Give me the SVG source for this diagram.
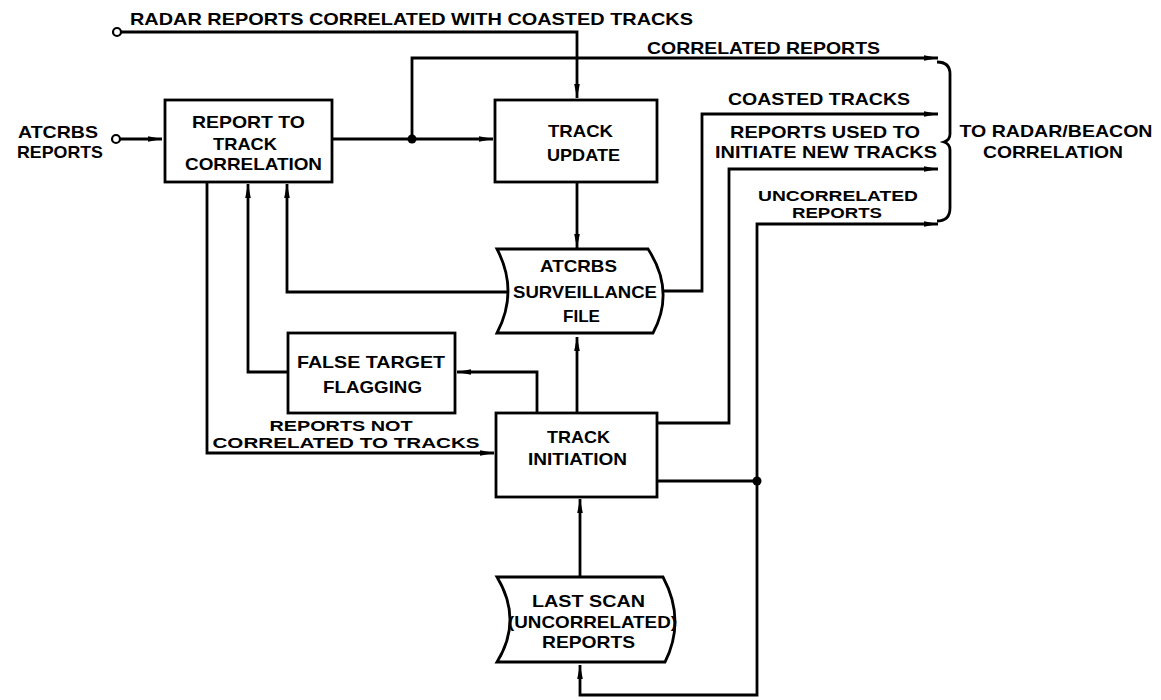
<svg xmlns="http://www.w3.org/2000/svg" width="1161" height="700" viewBox="0 0 1161 700">
<style>
.ln{fill:none;stroke:#000;stroke-width:2.8;stroke-linejoin:miter}
.box{fill:#fff;stroke:#000;stroke-width:2.8}
.dot{fill:#000}
.in{fill:#fff;stroke:#000;stroke-width:2.2}
text{font-family:"Liberation Sans",Arial,sans-serif;font-weight:bold;font-size:17px;fill:#000}
.m{text-anchor:middle}
.s{font-size:15px}
</style>
<defs>
<marker id="ah" viewBox="0 0 14 8" refX="14" refY="4" markerWidth="14" markerHeight="8" markerUnits="userSpaceOnUse" orient="auto">
<path d="M0,1.2 L14,4 L0,6.8 Z" fill="#000"/>
</marker>
</defs>
<rect width="1161" height="700" fill="#fff"/>

<g id="connectors">
<!-- ATCRBS input -->
<circle class="in" cx="116" cy="139" r="4"/>
<path class="ln" d="M120,139 H162" marker-end="url(#ah)"/>
<!-- Radar reports input -->
<circle class="in" cx="117" cy="32" r="4"/>
<path class="ln" d="M121,32 H577 V98" marker-end="url(#ah)"/>
<!-- Report correlation to Track update -->
<path class="ln" d="M332,139 H493" marker-end="url(#ah)"/>
<circle class="dot" cx="412" cy="139" r="4.5"/>
<!-- Correlated reports -->
<path class="ln" d="M412,139 V58 H938" marker-end="url(#ah)"/>
<!-- Track update to surveillance file -->
<path class="ln" d="M577,182 V248" marker-end="url(#ah)"/>
<!-- Surveillance file back to report correlation -->
<path class="ln" d="M508,292 H287 V184" marker-end="url(#ah)"/>
<!-- Coasted tracks -->
<path class="ln" d="M663,291 H702 V114 H938" marker-end="url(#ah)"/>
<!-- Reports used to initiate new tracks -->
<path class="ln" d="M657,423 H729 V169 H938" marker-end="url(#ah)"/>
<!-- Uncorrelated reports -->
<path class="ln" d="M657,481 H757 V224 H938" marker-end="url(#ah)"/>
<circle class="dot" cx="757" cy="481" r="4.5"/>
<!-- Loop to last scan -->
<path class="ln" d="M757,481 V695 H580 V665" marker-end="url(#ah)"/>
<!-- Last scan to track initiation -->
<path class="ln" d="M580,577 V499" marker-end="url(#ah)"/>
<!-- Track initiation to surveillance file -->
<path class="ln" d="M577,413 V337" marker-end="url(#ah)"/>
<!-- Track initiation to false target flagging -->
<path class="ln" d="M537,413 V372 H457" marker-end="url(#ah)"/>
<!-- False target flagging to report correlation -->
<path class="ln" d="M288,372 H248 V184" marker-end="url(#ah)"/>
<!-- Reports not correlated -->
<path class="ln" d="M207,182 V453 H494" marker-end="url(#ah)"/>
<!-- Brace -->
<path class="ln" d="M937,62 Q950,62 950,74 V134 Q950,140 944,142 Q950,144 950,150 V208 Q950,221 937,221"/>
</g>

<g id="labels">
<text x="130" y="25" textLength="563" lengthAdjust="spacingAndGlyphs">RADAR REPORTS CORRELATED WITH COASTED TRACKS</text>
<text class="m" x="58" y="138" textLength="80" lengthAdjust="spacingAndGlyphs">ATCRBS</text>
<text class="m" x="60" y="158" textLength="86" lengthAdjust="spacingAndGlyphs">REPORTS</text>
<text class="m" x="763.5" y="54" textLength="233" lengthAdjust="spacingAndGlyphs">CORRELATED REPORTS</text>
<text class="m" x="819" y="105" textLength="182" lengthAdjust="spacingAndGlyphs">COASTED TRACKS</text>
<text class="m" x="825" y="138" textLength="190" lengthAdjust="spacingAndGlyphs">REPORTS USED TO</text>
<text class="m" x="826" y="158" textLength="222" lengthAdjust="spacingAndGlyphs">INITIATE NEW TRACKS</text>
<text class="m s" x="838" y="201" textLength="160" lengthAdjust="spacingAndGlyphs">UNCORRELATED</text>
<text class="m s" x="837" y="218" textLength="90" lengthAdjust="spacingAndGlyphs">REPORTS</text>
<text class="m" x="1056" y="137" textLength="193" lengthAdjust="spacingAndGlyphs">TO RADAR/BEACON</text>
<text class="m" x="1053" y="158" textLength="140" lengthAdjust="spacingAndGlyphs">CORRELATION</text>
<text class="m s" x="341" y="431" textLength="143" lengthAdjust="spacingAndGlyphs">REPORTS NOT</text>
<text class="m s" x="346" y="448" textLength="267" lengthAdjust="spacingAndGlyphs">CORRELATED TO TRACKS</text>
</g>

<g id="report-to-track-correlation">
<rect class="box" x="165" y="100" width="167" height="82"/>
<text class="m" x="248.5" y="128" textLength="113" lengthAdjust="spacingAndGlyphs">REPORT TO</text>
<text class="m" x="245" y="150" textLength="64" lengthAdjust="spacingAndGlyphs">TRACK</text>
<text class="m" x="253.5" y="170" textLength="137" lengthAdjust="spacingAndGlyphs">CORRELATION</text>
</g>

<g id="track-update">
<rect class="box" x="495" y="100" width="162" height="82"/>
<text class="m" x="580.5" y="137" textLength="65" lengthAdjust="spacingAndGlyphs">TRACK</text>
<text class="m" x="583.5" y="161" textLength="73" lengthAdjust="spacingAndGlyphs">UPDATE</text>
</g>

<g id="atcrbs-surveillance-file">
<path class="box" d="M497,249 H648 Q675.5,291 653,333 H497 Q519,291 497,249 Z"/>
<text class="m" x="578.5" y="272" textLength="77" lengthAdjust="spacingAndGlyphs">ATCRBS</text>
<text class="m" x="585" y="298" textLength="144" lengthAdjust="spacingAndGlyphs">SURVEILLANCE</text>
<text class="m" x="581.5" y="322" textLength="37" lengthAdjust="spacingAndGlyphs">FILE</text>
</g>

<g id="false-target-flagging">
<rect class="box" x="288" y="333" width="167" height="80"/>
<text class="m" x="371" y="368" textLength="148" lengthAdjust="spacingAndGlyphs">FALSE TARGET</text>
<text class="m" x="372.5" y="393" textLength="99" lengthAdjust="spacingAndGlyphs">FLAGGING</text>
</g>

<g id="track-initiation">
<rect class="box" x="496" y="413" width="161" height="84"/>
<text class="m" x="578.5" y="443" textLength="63" lengthAdjust="spacingAndGlyphs">TRACK</text>
<text class="m" x="577.5" y="465" textLength="99" lengthAdjust="spacingAndGlyphs">INITIATION</text>
</g>

<g id="last-scan-uncorrelated-reports">
<path class="box" d="M497,577 H663 Q686,620 665,662 H497 Q523,620 497,577 Z"/>
<text class="m" x="588.5" y="607" textLength="113" lengthAdjust="spacingAndGlyphs">LAST SCAN</text>
<text class="m" x="592.5" y="628" textLength="169" lengthAdjust="spacingAndGlyphs">(UNCORRELATED)</text>
<text class="m" x="588.5" y="648" textLength="93" lengthAdjust="spacingAndGlyphs">REPORTS</text>
</g>
</svg>
